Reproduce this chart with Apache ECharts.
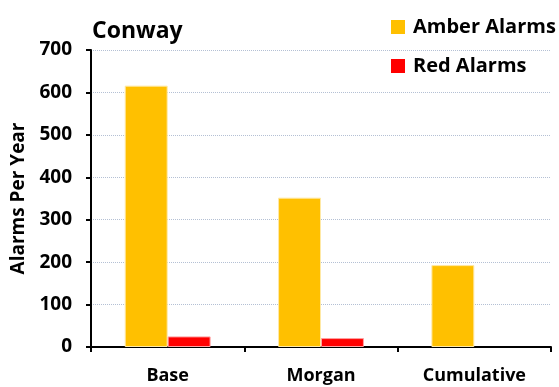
<!DOCTYPE html>
<html><head><meta charset="utf-8">
<script src="https://cdn.jsdelivr.net/npm/echarts@6/dist/echarts.min.js"></script>
<style>html,body{margin:0;padding:0;background:#fff}#c{width:559px;height:387px}</style>
</head><body><div id="c"></div>
<script>
const categories = ['Base', 'Morgan', 'Cumulative'];
const amberAlarms = [616, 352, 193];
const redAlarms = [25, 21, null];
const yTicks = [0, 100, 200, 300, 400, 500, 600, 700];

const FONT = 'Open Sans';
const chart = echarts.init(document.getElementById('c'), null, {renderer: 'canvas'});
chart.setOption({
  animation: false,
  textStyle: {fontFamily: FONT},
  title: {
    text: 'Conway', left: 87, top: 15,
    textStyle: {fontFamily: FONT, fontWeight: 'bold', fontSize: 23, color: '#000'}
  },
  legend: {
    orient: 'vertical', left: 386, top: 12,
    itemWidth: 14, itemHeight: 14, itemGap: 19, icon: 'rect',
    itemStyle: {borderWidth: 0},
    textStyle: {fontFamily: FONT, fontWeight: 'bold', fontSize: 20, color: '#000', padding: [0,0,0,3]},
    data: ['Amber Alarms', 'Red Alarms']
  },
  grid: {left: 91, right: 8, top: 50, bottom: 40},
  xAxis: {
    type: 'category', data: categories,
    axisLine: {lineStyle: {color: '#000', width: 2}},
    axisTick: {show: true, length: 5, lineStyle: {color: '#000', width: 2}},
    axisLabel: {fontFamily: FONT, fontWeight: 'bold', fontSize: 18, color: '#000', margin: 20}
  },
  yAxis: {
    type: 'value', min: yTicks[0], max: yTicks[yTicks.length-1], interval: 100,
    name: 'Alarms Per Year', nameLocation: 'middle', nameGap: 63, nameRotate: 90,
    nameTextStyle: {fontFamily: FONT, fontWeight: 'bold', fontSize: 19, color: '#000'},
    axisLine: {show: true, lineStyle: {color: '#000', width: 2}},
    axisTick: {show: true, length: 5, lineStyle: {color: '#000', width: 2}},
    axisLabel: {fontFamily: FONT, fontWeight: 'bold', fontSize: 19, color: '#000', margin: 19},
    splitLine: {show: true, lineStyle: {color: '#b4c0d4', type: 'dotted', width: 1}}
  },
  series: [
    {name: 'Amber Alarms', type: 'bar', data: amberAlarms, barGap: '0%', barCategoryGap: '44%',
     itemStyle: {color: '#FFC000', borderColor: '#FFE9A6', borderWidth: 1}},
    {name: 'Red Alarms', type: 'bar', data: redAlarms,
     itemStyle: {color: '#FF0000', borderColor: '#FFA0A0', borderWidth: 1}}
  ]
});
</script></body></html>
